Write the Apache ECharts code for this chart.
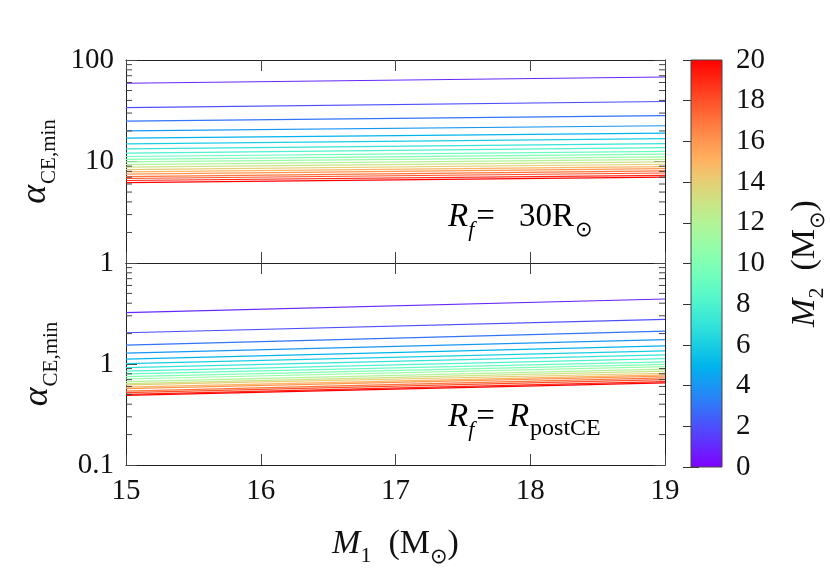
<!DOCTYPE html>
<html><head><meta charset="utf-8">
<script src="https://cdn.jsdelivr.net/npm/echarts@6/dist/echarts.min.js"></script>
<style>html,body{margin:0;padding:0;background:#fff}#c{width:830px;height:581px}</style>
</head><body><div id="c"></div>
<script>
// ---- data ----
const m1Ends = [15, 19];
const m2Values = [1,2,3,4,5,6,7,8,9,10,11,12,13,14,15,16,17,18,19,20];
// top panel (R_f = 30 Rsun): alpha at M1=15 and M1=19
const topAt15 = [59, 34, 25, 20, 17, 14.9, 13.3, 12.1, 11.2, 10.5, 9.9, 9.3, 8.8, 8.3, 7.9, 7.5, 7.1, 6.8, 6.5, 6.2];
const topAt19 = [68, 39, 28.3, 22.5, 19.0, 16.8, 15.0, 13.7, 12.6, 11.8, 11.1, 10.5, 9.9, 9.4, 8.9, 8.5, 8.1, 7.7, 7.3, 7.0];
// bottom panel (R_f = R_postCE)
const botAt15 = [3.22, 2.04, 1.54, 1.28, 1.12, 1.01, 0.92, 0.85, 0.80, 0.75, 0.71, 0.67, 0.64, 0.62, 0.59, 0.57, 0.54, 0.52, 0.50, 0.49];
const botAt19 = [4.40, 2.77, 2.12, 1.74, 1.51, 1.35, 1.23, 1.13, 1.05, 0.99, 0.94, 0.89, 0.85, 0.81, 0.78, 0.76, 0.73, 0.70, 0.67, 0.65];
const xTicks = [15, 16, 17, 18, 19];
const topMinorTicks = [2,3,4,5,6,7,8,9,20,30,40,50,60,70,80,90];
const botMinorTicks = [0.2,0.3,0.4,0.5,0.6,0.7,0.8,0.9,2,3,4,5,6,7,8,9];
const cbRange = [0, 20];
const cbInterval = 2;

// ---- style ----
const FONT = 'Liberation Serif';
const AX = '#222';
const TICKFS = 29;
function rainbow(t) {
  const r = Math.min(1, Math.abs(2 * t - 0.5));
  const g = Math.sin(Math.PI * t);
  const b = Math.cos(Math.PI * t / 2);
  const h = v => Math.round(Math.max(0, Math.min(1, v)) * 255).toString(16).padStart(2, '0');
  return '#' + h(r) + h(g) + h(b);
}

const grids = [
  {left: 126, top: 60, width: 539, height: 203},
  {left: 126, top: 263, width: 539, height: 202},
  {left: 691, top: 60, width: 32, height: 407}
];

function xAx(grid, pos, labels, extra) {
  return Object.assign({
    type: 'value', gridIndex: grid, position: pos, min: m1Ends[0], max: m1Ends[1], interval: 1,
    axisLine: {show: true, lineStyle: {color: AX, width: 1}},
    axisTick: {show: true, inside: true, length: 11, lineStyle: {color: '#444'}},
    axisLabel: {show: labels, margin: 12, fontFamily: FONT, fontSize: TICKFS, color: '#111'},
    splitLine: {show: false}
  }, extra || {});
}
function yLog(grid, pos, min, max, labels, extra) {
  return Object.assign({
    type: 'log', logBase: 10, gridIndex: grid, position: pos, min: min, max: max,
    axisLine: {show: true, lineStyle: {color: AX, width: 1}},
    axisTick: {show: true, inside: true, length: 11, lineStyle: {color: '#444'}},
    axisLabel: {show: labels, margin: 12, fontFamily: FONT, fontSize: TICKFS, color: '#111'},
    splitLine: {show: false}
  }, extra || {});
}
const alphaName = '{a|α}{s|CE,min}';
const alphaRich = {
  a: {fontFamily: FONT, fontStyle: 'italic', fontSize: 36, color: '#111'},
  s: {fontFamily: FONT, fontSize: 21, color: '#111', verticalAlign: 'bottom', padding: [0, 0, -6, 1]}
};
const massRich = {
  m: {fontFamily: FONT, fontStyle: 'italic', fontSize: 34, color: '#111'},
  s: {fontFamily: FONT, fontSize: 22, color: '#111', verticalAlign: 'bottom', padding: [0, 0, -6, 0]},
  t: {fontFamily: FONT, fontSize: 34, color: '#111'},
  o: {fontFamily: 'DejaVu Sans', fontSize: 21, color: '#111', verticalAlign: 'bottom', padding: [0, 0, -7, 0]}
};

const xAxis = [
  xAx(0, 'bottom', false),
  xAx(0, 'top', false),
  xAx(1, 'bottom', true, {
    name: '{m|M}{s|1}{t|  (M}{o|⊙}{t|)}', nameLocation: 'middle', nameGap: 62,
    nameTextStyle: {rich: massRich}
  }),
  xAx(1, 'top', false),
  {type: 'value', gridIndex: 2, min: 0, max: 1, show: false}
];
const yAxis = [
  yLog(0, 'left', 1, 100, true, {name: alphaName, nameLocation: 'middle', nameGap: 70, nameRotate: 90, nameTextStyle: {rich: alphaRich}}),
  yLog(0, 'right', 1, 100, false),
  yLog(1, 'left', 0.1, 10, true, {name: alphaName, nameLocation: 'middle', nameGap: 70, nameRotate: 90, nameTextStyle: {rich: alphaRich},
    axisLabel: {show: true, margin: 12, fontFamily: FONT, fontSize: TICKFS, color: '#111', showMaxLabel: false}}),
  yLog(1, 'right', 0.1, 10, false),
  {type: 'value', gridIndex: 2, position: 'right', min: cbRange[0], max: cbRange[1], interval: cbInterval,
    axisLine: {show: false}, splitLine: {show: false},
    axisTick: {show: true, inside: true, length: 8, lineStyle: {color: '#333'}},
    axisLabel: {show: true, margin: 14, fontFamily: FONT, fontSize: TICKFS, color: '#111'},
    name: '{m|M}{s|2}{t|  (M}{o|⊙}{t|)}', nameLocation: 'middle', nameGap: 66, nameRotate: 90,
    nameTextStyle: {rich: massRich}},
  {type: 'value', gridIndex: 2, position: 'left', min: cbRange[0], max: cbRange[1], interval: cbInterval,
    axisLine: {show: false}, splitLine: {show: false}, axisLabel: {show: false},
    axisTick: {show: true, inside: true, length: 8, lineStyle: {color: '#333'}}}
];

const series = [];
m2Values.forEach((m2, i) => {
  const col = rainbow((m2 - cbRange[0]) / (cbRange[1] - cbRange[0]));
  series.push({type: 'line', xAxisIndex: 0, yAxisIndex: 0, symbol: 'none', silent: true, z: 3, color: col,
    lineStyle: {color: col, width: 1.2}, data: [[m1Ends[0], topAt15[i]], [m1Ends[1], topAt19[i]]]});
  series.push({type: 'line', xAxisIndex: 2, yAxisIndex: 2, symbol: 'none', silent: true, z: 3, color: col,
    lineStyle: {color: col, width: 1.2}, data: [[m1Ends[0], botAt15[i]], [m1Ends[1], botAt19[i]]]});
});

function minorTickSeries(xi, yi, vals) {
  return {
    type: 'custom', xAxisIndex: xi, yAxisIndex: yi, silent: true, clip: false, z: 4,
    data: vals.map(v => [m1Ends[0], v]),
    encode: {x: 0, y: 1},
    renderItem: function (params, api) {
      const v = api.value(1);
      const pL = api.coord([m1Ends[0], v]);
      const pR = api.coord([m1Ends[1], v]);
      const st = {stroke: '#444', lineWidth: 1};
      return {type: 'group', children: [
        {type: 'line', shape: {x1: pL[0], y1: pL[1], x2: pL[0] + 6, y2: pL[1]}, style: st},
        {type: 'line', shape: {x1: pR[0], y1: pR[1], x2: pR[0] - 6, y2: pR[1]}, style: st}
      ]};
    }
  };
}
series.push(minorTickSeries(0, 0, topMinorTicks));
series.push(minorTickSeries(2, 2, botMinorTicks));

// colour bar
const cbStops = [];
for (let k = 0; k <= 20; k++) {
  cbStops.push({offset: k / 20, color: rainbow(1 - k / 20)});
}
series.push({
  type: 'custom', xAxisIndex: 4, yAxisIndex: 4, silent: true, clip: false, z: 1,
  data: [[0, cbRange[1]]],
  encode: {x: 0, y: 1},
  renderItem: function (params, api) {
    const p0 = api.coord([0, cbRange[1]]);
    const p1 = api.coord([1, cbRange[0]]);
    return {type: 'rect', shape: {x: p0[0], y: p0[1], width: p1[0] - p0[0], height: p1[1] - p0[1]},
      style: {fill: new echarts.graphic.LinearGradient(0, 0, 0, 1, cbStops), stroke: '#444', lineWidth: 1}};
  }
});

const annRich = {
  R: {fontFamily: FONT, fontStyle: 'italic', fontSize: 33, color: '#111'},
  f: {fontFamily: FONT, fontStyle: 'italic', fontSize: 22, color: '#111', verticalAlign: 'bottom', padding: [0, 0, -7, 0]},
  q: {fontFamily: FONT, fontSize: 33, color: '#111', padding: [0, 24, 0, 2]},
  q2: {fontFamily: FONT, fontSize: 33, color: '#111', padding: [0, 14, 0, 2]},
  e: {fontFamily: FONT, fontSize: 33, color: '#111'},
  o: {fontFamily: 'DejaVu Sans', fontSize: 21, color: '#111', verticalAlign: 'bottom', padding: [0, 0, -7, 1]},
  p: {fontFamily: FONT, fontSize: 24, color: '#111', verticalAlign: 'bottom', padding: [0, 0, -7, 1]}
};

const option = {
  animation: false,
  backgroundColor: '#fff',
  grid: grids,
  xAxis: xAxis,
  yAxis: yAxis,
  series: series,
  graphic: [
    {type: 'text', left: 448, top: 201, z: 10, style: {text: '{R|R}{f|f}{q|=}{e|30R}{o|⊙}', rich: annRich}},
    {type: 'text', left: 448, top: 401, z: 10, style: {text: '{R|R}{f|f}{q2|=}{R|R}{p|postCE}', rich: annRich}}
  ]
};
const chart = echarts.init(document.getElementById('c'), null, {renderer: 'canvas'});
chart.setOption(option);
</script></body></html>
